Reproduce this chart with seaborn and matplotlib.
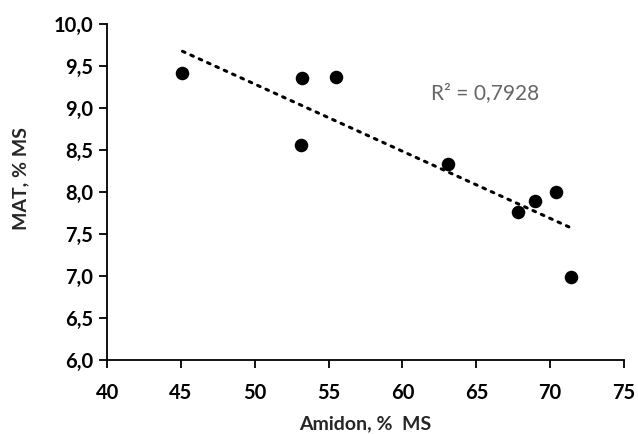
import numpy as np
import pandas as pd
import matplotlib
matplotlib.use("Agg")
import matplotlib.pyplot as plt
from matplotlib.ticker import FuncFormatter
import seaborn as sns

# values
amidon = [45.1, 53.2, 53.1, 55.5, 63.1, 67.8, 69.0, 70.4, 71.4]
mat = [9.42, 9.35, 8.56, 9.37, 8.33, 7.76, 7.89, 8.00, 6.98]
r2_label = "R² = 0,7928"

df = pd.DataFrame({"amidon": amidon, "mat": mat})

sns.set_theme(style="ticks")
plt.rcParams["font.family"] = ["Lato", "DejaVu Sans"]

fig = plt.figure(figsize=(6.38, 4.34), dpi=100)
ax = fig.add_axes([0.168, 0.171, 0.810, 0.774])

# linear trendline (dotted) over the data range
sns.regplot(x="amidon", y="mat", data=df, ax=ax, scatter=False, ci=None,
            truncate=True,
            line_kws={"color": "black", "lw": 2.2, "ls": (0, (0.9, 2.1)),
                      "dash_capstyle": "round"})
sns.scatterplot(x="amidon", y="mat", data=df, ax=ax, color="black", s=95,
                edgecolor="black", linewidth=0, zorder=3)

ax.text(0.731, 0.795, r2_label, transform=ax.transAxes, ha="center",
        va="center", fontsize=15, color="#666666")

ax.set_xlim(40, 75)
ax.set_ylim(6.0, 10.0)
ax.set_xticks(np.arange(40, 76, 5))
ax.set_yticks(np.arange(6.0, 10.01, 0.5))
ax.yaxis.set_major_formatter(FuncFormatter(lambda v, p: f"{v:.1f}".replace(".", ",")))

ax.set_xlabel("Amidon, %  MS", fontsize=14, fontweight="bold")
ax.set_ylabel("MAT, % MS", fontsize=14, fontweight="bold")
ax.xaxis.set_label_coords(0.5, -0.165)
ax.yaxis.set_label_coords(-0.150, 0.54)

for lab in ax.get_xticklabels() + ax.get_yticklabels():
    lab.set_fontweight("bold")
ax.tick_params(axis="both", labelsize=14.5, length=6, width=1.3,
               color="black", labelcolor="black", direction="out")
ax.tick_params(axis="y", pad=4)
ax.tick_params(axis="x", pad=11)
for s in ["left", "bottom"]:
    ax.spines[s].set_linewidth(1.3)
    ax.spines[s].set_color("black")
sns.despine(ax=ax)

fig.savefig("out.png", dpi=100)
